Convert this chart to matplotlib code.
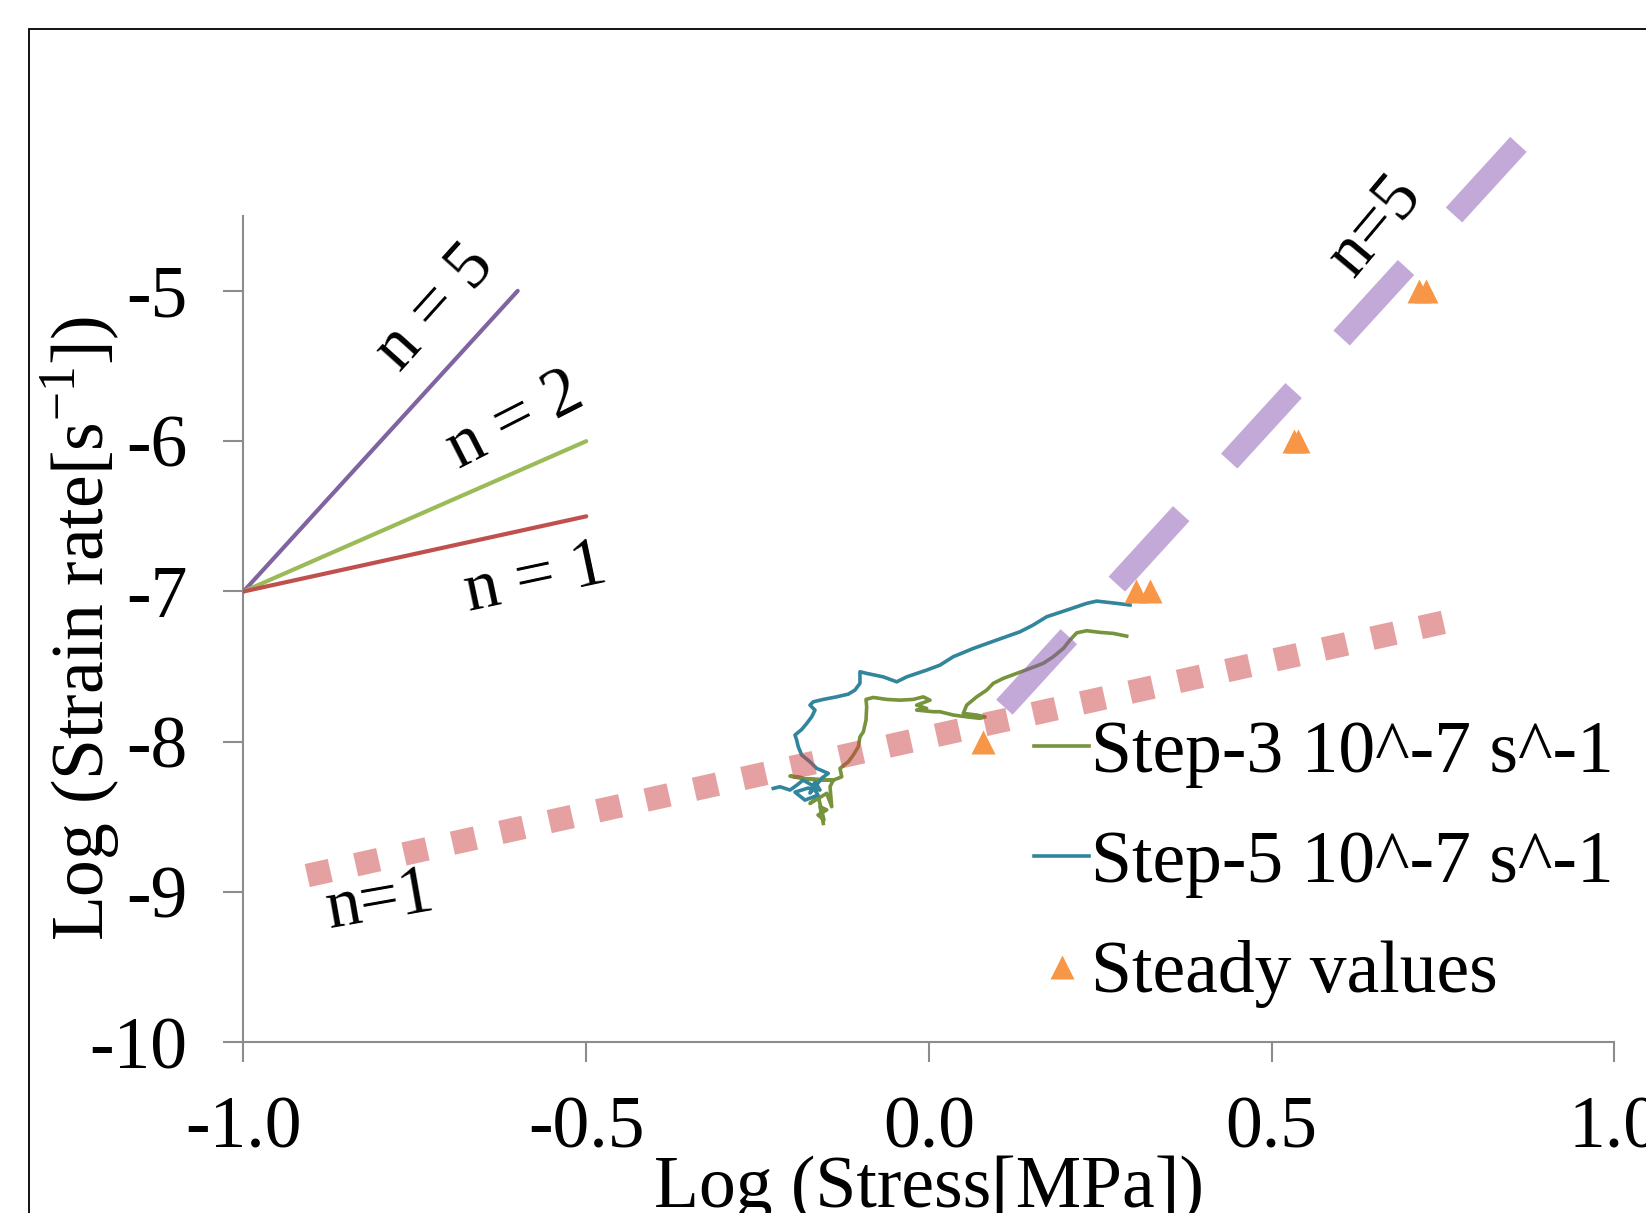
import numpy as np
import matplotlib.pyplot as plt
from matplotlib.patches import Rectangle

plt.rcParams['font.family'] = ['Liberation Serif', 'DejaVu Serif']
plt.rcParams['mathtext.fontset'] = 'custom'
plt.rcParams['mathtext.rm'] = 'Liberation Serif'
plt.rcParams['axes.unicode_minus'] = False

# Step-3 creep curve (log stress, log strain rate)
step3_x = [-0.1542, -0.1590, -0.1492, -0.1619, -0.1532, -0.1615, -0.1736, -0.1492, -0.1419,
           -0.1444, -0.1396, -0.1809, -0.1882, -0.2028, -0.1809, -0.1396, -0.1273, -0.1298,
           -0.1177, -0.1104, -0.1031, -0.1007, -0.0958, -0.0919, -0.0909, -0.0919, -0.0813,
           -0.0617, -0.0423, -0.0229, -0.0083, 0.0015, -0.0180, -0.0034, -0.0180, 0.0063,
           0.0160, 0.0354, 0.0550, 0.0744, 0.0817, 0.0696, 0.0500, 0.0550, 0.0696, 0.0842,
           0.0938, 0.1084, 0.1279, 0.1473, 0.1667, 0.1813, 0.1959, 0.2057, 0.2155, 0.2301,
           0.2494, 0.2689, 0.2884]
step3_y = [-8.543, -8.432, -8.453, -8.487, -8.520, -8.366, -8.410, -8.343, -8.432,
           -8.299, -8.255, -8.248, -8.235, -8.228, -8.248, -8.255, -8.233, -8.177,
           -8.133, -8.088, -8.033, -7.967, -7.934, -7.856, -7.767, -7.718, -7.705,
           -7.718, -7.723, -7.718, -7.701, -7.723, -7.756, -7.778, -7.789, -7.800,
           -7.800, -7.822, -7.834, -7.844, -7.834, -7.822, -7.811, -7.756, -7.701, -7.656,
           -7.611, -7.578, -7.545, -7.512, -7.478, -7.434, -7.379, -7.323, -7.275, -7.261,
           -7.272, -7.279, -7.297]

# Step-5 creep curve
step5_x = [-0.2271, -0.2174, -0.2028, -0.1926, -0.1838, -0.1707, -0.1619, -0.1809, -0.1955,
           -0.1765, -0.1590, -0.1663, -0.1736, -0.1561, -0.1469, -0.1638, -0.1736, -0.1857,
           -0.1907, -0.1930, -0.1955, -0.1857, -0.1784, -0.1711, -0.1663, -0.1736, -0.1688,
           -0.1542, -0.1347, -0.1177, -0.1080, -0.1007, -0.1007, -0.0909, -0.0667, -0.0471,
           -0.0325, -0.0034, 0.0160, 0.0354, 0.0646, 0.0988, 0.1328, 0.1517, 0.1717, 0.2009,
           0.2301, 0.2447, 0.2738, 0.2932]
step5_y = [-8.310, -8.299, -8.321, -8.288, -8.255, -8.288, -8.355, -8.388, -8.335,
           -8.308, -8.321, -8.268, -8.341, -8.241, -8.210, -8.177, -8.133, -8.088,
           -8.033, -7.989, -7.955, -7.918, -7.878, -7.834, -7.789, -7.756, -7.734,
           -7.718, -7.701, -7.683, -7.656, -7.611, -7.534, -7.545, -7.568, -7.601,
           -7.568, -7.523, -7.490, -7.434, -7.379, -7.323, -7.268, -7.224, -7.168, -7.124,
           -7.079, -7.064, -7.079, -7.090]

# steady state values
steady_x = [0.079, 0.302, 0.323, 0.532, 0.539, 0.715, 0.725]
steady_y = [-8.0, -7.0, -7.0, -6.0, -6.0, -5.0, -5.0]

# reference slopes (top left)
ref_n5 = ([-1.0, -0.6], [-7.0, -5.0])
ref_n2 = ([-1.0, -0.5], [-7.0, -6.0])
ref_n1 = ([-1.0, -0.5], [-7.0, -6.5])

# fitted guide lines
fit_n1 = ([-0.907, 0.785], [-8.89, -7.17])
fit_n5 = ([0.11, 0.865], [-7.77, -4.00])

xticks = [-1.0, -0.5, 0.0, 0.5, 1.0]
yticks = [-10, -9, -8, -7, -6, -5]

fig = plt.figure(figsize=(16.46, 12.13), dpi=100)
ax = fig.add_axes([0.14793, 0.14064, 0.83293, 0.68152])

fig.add_artist(Rectangle((0.0179, -0.2), 1.5, 0.9757 + 0.2, transform=fig.transFigure,
                         fill=False, edgecolor='black', linewidth=1.3))

ax.plot(step3_x, step3_y, color='#77933C', lw=2.6, label='Step-3 10^-7 s^-1', zorder=3)
ax.plot(step5_x, step5_y, color='#31859C', lw=2.6, label='Step-5 10^-7 s^-1', zorder=3)
ax.plot(steady_x, steady_y, linestyle='none', marker='^', ms=17, color='#F79646',
        mec='none', label='Steady values', zorder=4)

for (xs, ys), c in zip([ref_n5, ref_n2, ref_n1], ['#8064A2', '#9BBB59', '#C0504D']):
    ax.plot(xs, ys, color=c, lw=3.0, solid_capstyle='round', zorder=3)

ln1, = ax.plot(*fit_n1, color='#CC4444', alpha=0.5, lw=17, zorder=5, clip_on=False)
ln1.set_dashes([1.0, 1.1])
ln1.set_dash_capstyle('butt')
ln5, = ax.plot(*fit_n5, color='#8855B3', alpha=0.5, lw=16, zorder=5, clip_on=False)
ln5.set_dashes([4.3, 3.2])
ln5.set_dash_capstyle('butt')

tkw = dict(ha='center', va='center', rotation_mode='anchor', fontsize=50)
ax.text(-0.7206, -5.116, 'n = 5', rotation=48, **tkw)
ax.text(-0.6029, -5.871, 'n = 2', rotation=27, **tkw)
ax.text(-0.5737, -6.924, 'n = 1', rotation=12, **tkw)
ax.text(0.6506, -4.567, 'n=5', rotation=50, **tkw)
ax.text(-0.8009, -9.065, 'n=1', rotation=10, **tkw)

ax.set_xlim(-1, 1)
ax.set_ylim(-10, -4.5)
ax.set_xticks(xticks)
ax.set_xticklabels(['%.1f' % v for v in xticks])
ax.set_yticks(yticks)
ax.set_yticklabels([str(v) for v in yticks])
for s in ['top', 'right']:
    ax.spines[s].set_visible(False)
for s in ['left', 'bottom']:
    ax.spines[s].set_color('#8C8C8C')
    ax.spines[s].set_linewidth(1.5)
ax.tick_params(direction='out', length=14.4, width=1.5, color='#8C8C8C', labelsize=53)
ax.tick_params(axis='x', pad=24)
ax.tick_params(axis='y', pad=26)

ax.set_xlabel('Log (Stress[MPa])', fontsize=53)
ax.xaxis.set_label_coords(0.5, -0.137)
ax.set_ylabel('Log (Strain rate[s$^{-1}$])', fontsize=53)
ax.yaxis.set_label_coords(-0.088, 0.5)

ax.legend(loc='upper left', bbox_to_anchor=(0.5766, 0.39), frameon=False, fontsize=53,
          borderpad=0, borderaxespad=0, handlelength=0.75, handletextpad=0.02,
          labelspacing=0.58)

fig.savefig('out.png', dpi=100)
